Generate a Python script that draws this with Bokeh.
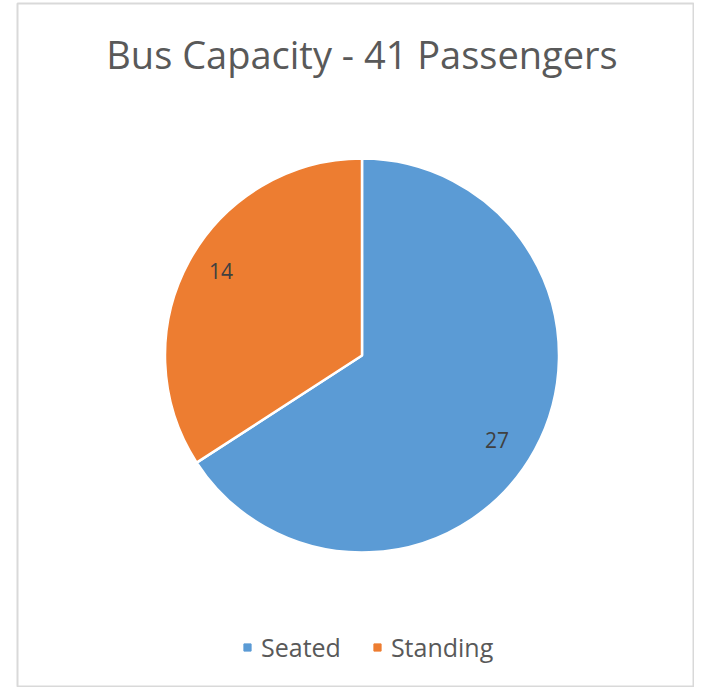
import math
from bokeh.plotting import figure
from bokeh.models import Range1d, Legend, LegendItem, ColumnDataSource
from bokeh.core.properties import value
from bokeh.embed import file_html
from bokeh.resources import INLINE

# ---- data ----
categories = ["Seated", "Standing"]
passengers = [27, 14]
colors = ["#5B9BD5", "#ED7D31"]
title_text = "Bus Capacity - 41 Passengers"

W, H = 694, 687
FONT = "Open Sans"

p = figure(width=W, height=H, output_backend="svg", toolbar_location=None,
           x_range=Range1d(0, W), y_range=Range1d(0, H),
           x_axis_location=None, y_axis_location=None, min_border=0)
p.grid.visible = False
p.outline_line_color = None
p.background_fill_color = "white"
p.border_fill_color = "white"

# chart border
p.quad(left=[17], right=[693], bottom=[1], top=[684], fill_color=None,
       line_color="#D9D9D9", line_width=2)

# pie geometry
cx, cy, R = 361.5, 332, 197
total = sum(passengers)
starts, ends, mids = [], [], []
acc = 0
for v in passengers:
    a0 = math.pi / 2 - 2 * math.pi * acc / total
    acc += v
    a1 = math.pi / 2 - 2 * math.pi * acc / total
    starts.append(a0)
    ends.append(a1)
    mids.append((a0 + a1) / 2)

src = ColumnDataSource(dict(cat=categories, val=passengers, color=colors,
                            start=starts, end=ends,
                            x=[cx] * len(categories), y=[cy] * len(categories)))
p.wedge(x="x", y="y", radius=R, start_angle="end", end_angle="start",
        fill_color="color", line_color="white", line_width=2.5, source=src)

# data labels (best-fit style, slightly clockwise of mid-angle)
lr = 162
shift = math.radians(3)
lx = [cx - 3 + lr * math.cos(m - shift) for m in mids]
ly = [cy + lr * math.sin(m - shift) for m in mids]
p.text(x=lx, y=ly, text=[str(v) for v in passengers], text_font=value(FONT),
       text_font_size="21px", text_color="#404040", text_align="center",
       text_baseline="middle")

# title
p.text(x=[cx], y=[634], text=[title_text], text_font=value(FONT),
       text_font_size="38px", text_color="#595959", text_align="center",
       text_baseline="middle")

# legend
items = []
for c, col in zip(categories, colors):
    r = p.scatter(x=[-100], y=[-100], marker="square", size=10, color=col)
    items.append(LegendItem(label=c, renderers=[r]))
legend = Legend(items=items, orientation="horizontal", location=(238, 23),
                padding=0, margin=0, spacing=27, label_standoff=5,
                glyph_width=18, glyph_height=18,
                label_text_font=FONT, label_text_font_size="25px",
                label_text_color="#595959",
                border_line_alpha=0, background_fill_alpha=0)
p.add_layout(legend, "center")

open("out.html", "w").write(file_html(p, INLINE))
